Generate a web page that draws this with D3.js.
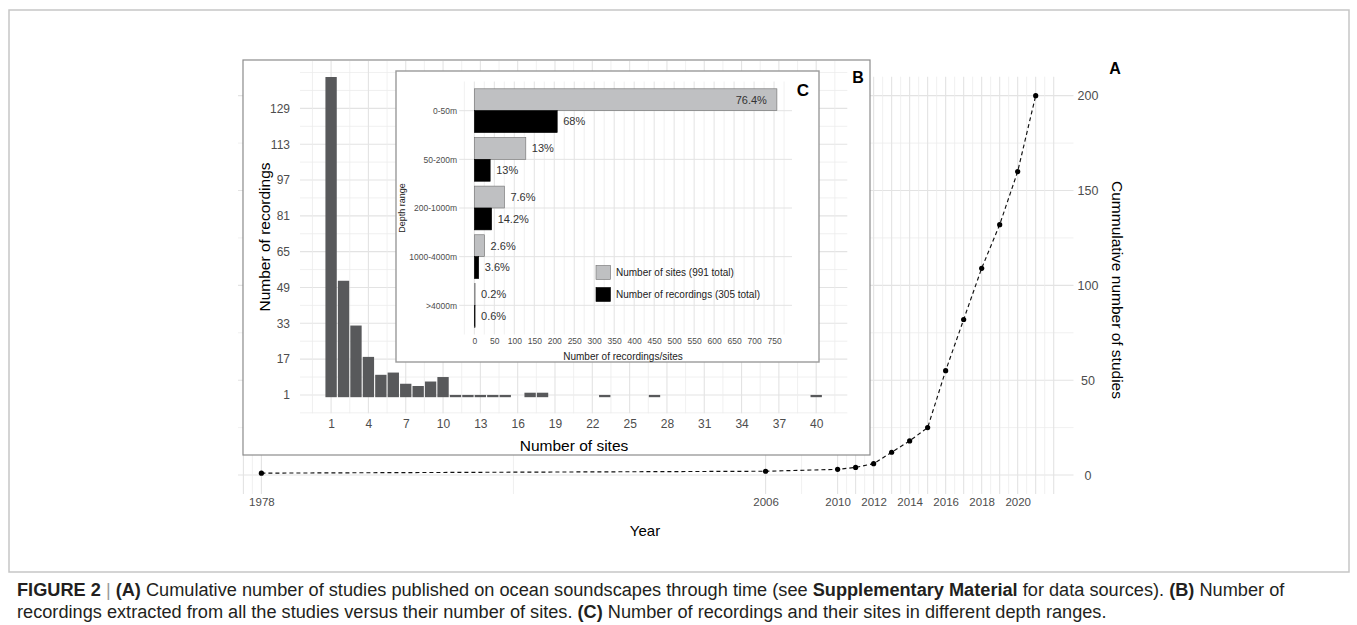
<!DOCTYPE html>
<html>
<head>
<meta charset="utf-8">
<script src="https://cdn.jsdelivr.net/npm/d3@7"></script>
<style>
  body { margin: 0; background: #fff; }
  svg { display: block; font-family: "Liberation Sans", Arial, Helvetica, sans-serif; }
</style>
</head>
<body>
<svg id="fig" width="1357" height="625"></svg>
<script>
// ---- Panel A: cumulative number of studies per year ----
const years = [1978, 2006, 2010, 2011, 2012, 2013, 2014, 2015, 2016, 2017, 2018, 2019, 2020, 2021];
const cumulativeStudies = [1, 2, 3, 4, 6, 12, 18, 25, 55, 82, 109, 132, 160, 200];
const yearLabels = [1978, 2006, 2010, 2012, 2014, 2016, 2018, 2020];
const yearGridMajor = [1977, 1978, 2006, 2010, 2011, 2012, 2013, 2014, 2015, 2016, 2017, 2018, 2019, 2020, 2021, 2022];
const yearGridMinor = [1977.5, 1992, 2008, 2010.5, 2011.5, 2012.5, 2013.5, 2014.5, 2015.5, 2016.5, 2017.5, 2018.5, 2019.5, 2020.5, 2021.5];
const studyTicks = [0, 50, 100, 150, 200];
const studyMinor = [25, 75, 125, 175];

// ---- Panel B: recordings by number of sites ----
const siteBins = [1, 2, 3, 4, 5, 6, 7, 8, 9, 10, 11, 12, 13, 14, 15, 17, 18, 23, 27, 40];
const recordingsPerBin = [143, 52, 32, 18, 10, 11, 6, 5, 7, 9, 1, 1, 1, 1, 1, 2, 2, 1, 1, 1];
const siteTicks = [1, 4, 7, 10, 13, 16, 19, 22, 25, 28, 31, 34, 37, 40];
const recordingTicks = [1, 17, 33, 49, 65, 81, 97, 113, 129];

// ---- Panel C: depth ranges ----
const depthRanges = ["0-50m", "50-200m", "200-1000m", "1000-4000m", ">4000m"];
const sitePct = [76.4, 13, 7.6, 2.6, 0.2];
const recordingPct = [68, 13, 14.2, 3.6, 0.6];
const totalSites = 991;
const totalRecordings = 305;
const countTicks = [0, 50, 100, 150, 200, 250, 300, 350, 400, 450, 500, 550, 600, 650, 700, 750];

const svg = d3.select("#fig");
const GRID = "#e3e3e3";
const GRID_MINOR = "#ececec";
const TICK = "#4d4d4d";

function hLines(g, vals, scale, x1, x2, color, w) {
  g.append("g").selectAll("line").data(vals).join("line")
    .attr("x1", x1).attr("x2", x2)
    .attr("y1", d => scale(d)).attr("y2", d => scale(d))
    .attr("stroke", color).attr("stroke-width", w);
}
function vLines(g, vals, scale, y1, y2, color, w) {
  g.append("g").selectAll("line").data(vals).join("line")
    .attr("y1", y1).attr("y2", y2)
    .attr("x1", d => scale(d)).attr("x2", d => scale(d))
    .attr("stroke", color).attr("stroke-width", w);
}
function styleAxis(g, size, color) {
  g.select(".domain").remove();
  g.selectAll(".tick line").remove();
  g.selectAll(".tick text").attr("font-size", size).attr("fill", color)
    .attr("font-family", '"Liberation Sans", Arial, sans-serif');
}

// outer figure frame
svg.append("rect").attr("x", 9).attr("y", 10).attr("width", 1340).attr("height", 562)
  .attr("fill", "none").attr("stroke", "#c6c6c6").attr("stroke-width", 1.5);

// ================= Panel A =================
const A = { left: 238, right: 1073.5, top: 76.7, bottom: 494 };
const xA = d3.scaleLinear().domain([1976.7, 2023.1]).range([A.left, A.right]);
const yA = d3.scaleLinear().domain([-10, 210]).range([A.bottom, A.top]);
const gA = svg.append("g");

hLines(gA, studyMinor, yA, A.left, A.right, GRID_MINOR, 0.8);
hLines(gA, studyTicks, yA, A.left, A.right, GRID, 1.1);
vLines(gA, yearGridMinor, xA, A.top, A.bottom, GRID_MINOR, 0.8);
vLines(gA, yearGridMajor, xA, A.top, A.bottom, GRID, 1.1);

const studyLine = d3.line().x((d, i) => xA(years[i])).y(d => yA(d));
gA.append("path").datum(cumulativeStudies).attr("d", studyLine)
  .attr("fill", "none").attr("stroke", "#111").attr("stroke-width", 1.15)
  .attr("stroke-dasharray", "4,3");
gA.selectAll("circle").data(cumulativeStudies).join("circle")
  .attr("cx", (d, i) => xA(years[i])).attr("cy", d => yA(d)).attr("r", 2.6).attr("fill", "#000");

const axA = gA.append("g").attr("transform", "translate(0,497.5)")
  .call(d3.axisBottom(xA).tickValues(yearLabels).tickFormat(d3.format("d")).tickSize(0).tickPadding(0));
styleAxis(axA, 11.5, TICK);

const ayA = gA.append("g").attr("transform", "translate(1088,0)")
  .call(d3.axisRight(yA).tickValues(studyTicks).tickSize(0).tickPadding(0));
styleAxis(ayA, 12.5, TICK);
ayA.selectAll(".tick text").attr("text-anchor", "middle").attr("x", 0);

gA.append("text").attr("x", 645).attr("y", 531).attr("dy", "0.35em")
  .attr("text-anchor", "middle").attr("font-size", 15).text("Year");
gA.append("text").attr("transform", "translate(1117,290) rotate(90)")
  .attr("dy", "0.35em").attr("text-anchor", "middle").attr("font-size", 15.5)
  .text("Cummulative number of studies");
gA.append("text").attr("x", 1115).attr("y", 68).attr("dy", "0.35em")
  .attr("text-anchor", "middle").attr("font-size", 16).attr("font-weight", "bold").text("A");

// ================= Panel B =================
const gB = svg.append("g");
gB.append("rect").attr("x", 243).attr("y", 60).attr("width", 627).attr("height", 395)
  .attr("fill", "#fff").attr("stroke", "#8c8c8c").attr("stroke-width", 1.2);

const B = { left: 300, right: 847.3, top: 61, bottom: 413.2 };
const xB = d3.scaleLinear().domain([-1.5, 42.5]).range([B.left, B.right]);
const yB = d3.scaleLinear().domain([-7.15, 150.15]).range([B.bottom, B.top]);

const recMinor = d3.range(-7, 150, 16);
const siteMinor = d3.range(-0.5, 42.5, 3);
hLines(gB, recMinor.concat([145]), yB, B.left, B.right, GRID_MINOR, 0.8);
hLines(gB, recordingTicks, yB, B.left, B.right, GRID, 1.1);
vLines(gB, siteMinor, xB, B.top, B.bottom, GRID_MINOR, 0.8);
vLines(gB, siteTicks, xB, B.top, B.bottom, GRID, 1.1);

gB.append("g").selectAll("rect").data(siteBins).join("rect")
  .attr("x", d => xB(d - 0.5) + 0.55)
  .attr("width", d => xB(d + 0.5) - xB(d - 0.5) - 1.1)
  .attr("y", (d, i) => yB(recordingsPerBin[i]))
  .attr("height", (d, i) => yB(0) - yB(recordingsPerBin[i]))
  .attr("fill", "#58595b");

const axB = gB.append("g").attr("transform", "translate(0,419.5)")
  .call(d3.axisBottom(xB).tickValues(siteTicks).tickSize(0).tickPadding(0));
styleAxis(axB, 12, TICK);
const ayB = gB.append("g").attr("transform", "translate(290,0)")
  .call(d3.axisLeft(yB).tickValues(recordingTicks).tickSize(0).tickPadding(0));
styleAxis(ayB, 12, TICK);

gB.append("text").attr("x", 574).attr("y", 446).attr("dy", "0.35em")
  .attr("text-anchor", "middle").attr("font-size", 15.5).text("Number of sites");
gB.append("text").attr("transform", "translate(264.5,237) rotate(-90)")
  .attr("dy", "0.35em").attr("text-anchor", "middle").attr("font-size", 15.5)
  .text("Number of recordings");
gB.append("text").attr("x", 858).attr("y", 77).attr("dy", "0.35em")
  .attr("text-anchor", "middle").attr("font-size", 16).attr("font-weight", "bold").text("B");

// ================= Panel C =================
const gC = svg.append("g");
gC.append("rect").attr("x", 396).attr("y", 71).attr("width", 423).attr("height", 291)
  .attr("fill", "#fff").attr("stroke", "#9a9a9a").attr("stroke-width", 1.4);

const C = { left: 459.2, right: 792, top: 81.5, bottom: 334.5 };
const xC = d3.scaleLinear().domain([-37.85, 794.9]).range([C.left, C.right]);
const yC = d3.scalePoint().domain(depthRanges).range([C.top, C.bottom]).padding(0.6);
const barH = yC.step() * 0.45;

vLines(gC, d3.range(-25, 790, 50), xC, C.top, C.bottom, GRID_MINOR, 0.8);
vLines(gC, countTicks, xC, C.top, C.bottom, GRID, 1);
hLines(gC, depthRanges, yC, C.left, C.right, GRID, 1);

const siteCounts = sitePct.map(p => p / 100 * totalSites);
const recCounts = recordingPct.map(p => p / 100 * totalRecordings);

gC.append("g").selectAll("rect").data(depthRanges).join("rect")
  .attr("x", xC(0)).attr("y", d => yC(d) - barH)
  .attr("width", (d, i) => xC(siteCounts[i]) - xC(0)).attr("height", barH)
  .attr("fill", "#bfc0c2").attr("stroke", "#6e6e6e").attr("stroke-width", 0.6);
gC.append("g").selectAll("rect").data(depthRanges).join("rect")
  .attr("x", xC(0)).attr("y", d => yC(d))
  .attr("width", (d, i) => xC(recCounts[i]) - xC(0)).attr("height", barH)
  .attr("fill", "#000").attr("stroke", "#000").attr("stroke-width", 0.6);

const maxSite = d3.max(siteCounts);
gC.append("g").selectAll("text").data(depthRanges).join("text")
  .attr("x", (d, i) => siteCounts[i] === maxSite ? xC(siteCounts[i]) - 10 : xC(siteCounts[i]) + 6)
  .attr("text-anchor", (d, i) => siteCounts[i] === maxSite ? "end" : "start")
  .attr("y", d => yC(d) - barH / 2).attr("dy", "0.35em")
  .attr("font-size", 11).attr("fill", "#333")
  .text((d, i) => sitePct[i] + "%");
gC.append("g").selectAll("text").data(depthRanges).join("text")
  .attr("x", (d, i) => xC(recCounts[i]) + 6)
  .attr("y", d => yC(d) + barH / 2).attr("dy", "0.35em")
  .attr("font-size", 11).attr("fill", "#333")
  .text((d, i) => recordingPct[i] + "%");

const axC = gC.append("g").attr("transform", "translate(0,337.5)")
  .call(d3.axisBottom(xC).tickValues(countTicks).tickSize(0).tickPadding(0));
styleAxis(axC, 8.5, TICK);
const ayC = gC.append("g").attr("transform", "translate(457,0)")
  .call(d3.axisLeft(yC).tickSize(0).tickPadding(0));
styleAxis(ayC, 8.5, TICK);

gC.append("text").attr("x", 623).attr("y", 356).attr("dy", "0.35em")
  .attr("text-anchor", "middle").attr("font-size", 10).attr("fill", "#222")
  .text("Number of recordings/sites");
gC.append("text").attr("transform", "translate(402,208) rotate(-90)")
  .attr("dy", "0.35em").attr("text-anchor", "middle").attr("font-size", 9).attr("fill", "#222")
  .text("Depth range");
gC.append("text").attr("x", 803).attr("y", 90).attr("dy", "0.35em")
  .attr("text-anchor", "middle").attr("font-size", 17).attr("font-weight", "bold").text("C");

// legend
const legend = [
  { label: "Number of sites (" + totalSites + " total)", fill: "#bfc0c2", stroke: "#6e6e6e" },
  { label: "Number of recordings (" + totalRecordings + " total)", fill: "#000", stroke: "#000" }
];
const lg = gC.append("g").attr("transform", "translate(596,265.5)");
lg.selectAll("rect").data(legend).join("rect")
  .attr("x", 0).attr("y", (d, i) => i * 22).attr("width", 14.5).attr("height", 14)
  .attr("fill", d => d.fill).attr("stroke", d => d.stroke).attr("stroke-width", 0.6);
lg.selectAll("text").data(legend).join("text")
  .attr("x", 20).attr("y", (d, i) => i * 22 + 7).attr("dy", "0.35em")
  .attr("font-size", 10).attr("fill", "#222").text(d => d.label);

// ================= Caption =================
const captionLines = [
  [["FIGURE 2", true], [" ", false], ["|", "bar"], [" ", false], ["(A)", true],
   [" Cumulative number of studies published on ocean soundscapes through time (see ", false],
   ["Supplementary Material", true], [" for data sources). ", false], ["(B)", true], [" Number of", false]],
  [["recordings extracted from all the studies versus their number of sites. ", false], ["(C)", true],
   [" Number of recordings and their sites in different depth ranges.", false]]
];
const capY = [590, 612];
const capTexts = captionLines.map((parts, li) => {
  const t = svg.append("text").attr("x", 17).attr("y", capY[li]).attr("dy", "0.35em")
    .attr("font-size", 15).attr("fill", "#231f20");
  parts.forEach(([s, b]) => {
    const ts = t.append("tspan").text(s);
    if (b === true) ts.attr("font-weight", "bold");
    if (b === "bar") ts.attr("fill", "#9a9a9a");
  });
  return t;
});
// size the caption so its first line fills the text column
const w0 = capTexts[0].node().getComputedTextLength();
const capSize = 15 * 1268 / w0;
capTexts.forEach(t => t.attr("font-size", capSize));
</script>
</body>
</html>
